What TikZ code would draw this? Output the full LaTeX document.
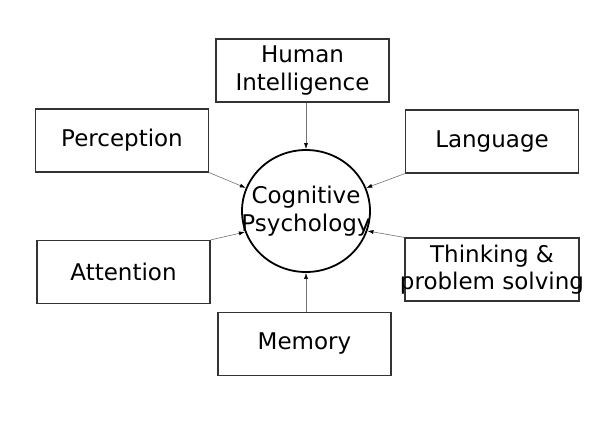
\documentclass[tikz,border=0pt]{standalone}
\usepackage{fontspec}
\setmainfont{DejaVu Sans}
\usepackage{pgf,tikz}
\usetikzlibrary{shapes, arrows.meta, positioning}
\tikzstyle{campo} = [draw=black!80, line width=1.2pt, rectangle, minimum width=173pt, minimum height=63pt, inner sep=0pt, align=center, font=\fontsize{23}{27.5}\selectfont]
\tikzstyle{centro} = [draw=black, line width=1.8pt, ellipse, minimum width=128pt, minimum height=122pt, inner sep=0pt]
\tikzstyle{rotulo} = [align=center, inner sep=0pt, font=\fontsize{23}{28}\selectfont]
\tikzstyle{flecha} = [draw=black!55, line width=0.6pt, -{Latex[black,length=6pt,width=4pt]}]

\begin{document}
\begin{tikzpicture}[x=1pt, y=-1pt]
	\useasboundingbox (0,0) rectangle (600,424);
	\node [centro] (cog) at (306,211) {};
	\node [rotulo] (cogtxt) at (cog.center) {Cognitive\\Psychology};
	\node [campo] (intel) at (302.5,70.5) {Human\\Intelligence};
	\node [campo] (perc) at (122,140.5) {Perception};
	\node [campo] (leng) at (492,141.5) {Language};
	\node [campo] (aten) at (123.5,272) {Attention};
	\node [campo, inner xsep=-5pt] (pens) at (492,269.5) {Thinking \&\\problem solving};
	\node [campo] (mem) at (304.5,344) {Memory};
	\draw [flecha] (intel.south -| cog.north) -- (cog.north);
	\draw [flecha] (perc.south east) -- (cog.159);
	\draw [flecha] (aten.north east) -- (cog.199);
	\draw [flecha] (leng.south west) -- (cog.21);
	\draw [flecha] (pens.north west) -- (cog.342);
	\draw [flecha] (mem.north -| cog.south) -- (cog.south);
\end{tikzpicture}
\end{document}
